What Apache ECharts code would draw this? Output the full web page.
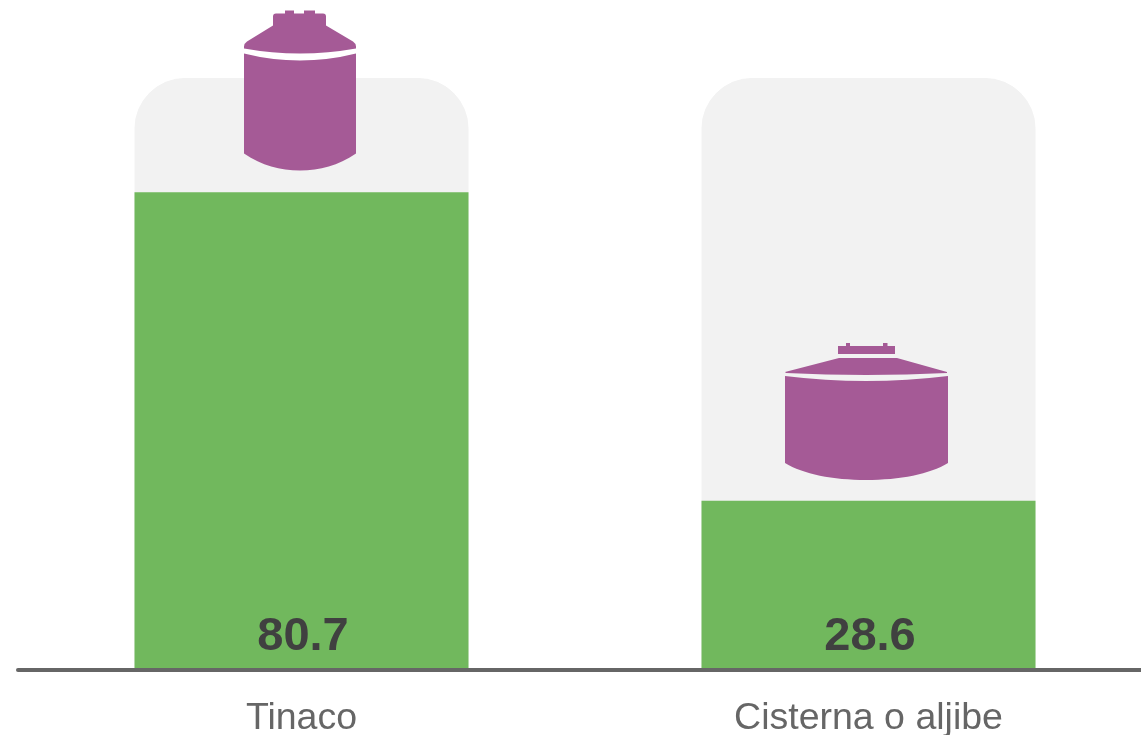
<!DOCTYPE html>
<html>
<head>
<meta charset="utf-8">
<style>html,body{margin:0;padding:0;background:#fff;overflow:hidden;width:1141px;height:735px}#c{width:1152px;height:735px}</style>
<script src="https://cdn.jsdelivr.net/npm/echarts@6/dist/echarts.min.js"></script>
</head>
<body>
<div id="c"></div>
<script>
var categories = ['Tinaco', 'Cisterna o aljibe'];
var values = [80.7, 28.6];
var fullScale = [100, 100];
var iconLevels = [97.9, 43.65];

var tallTank = 'path://M285 10H294V13H304V10H315V13H323Q326 13 326 16V25L353 41Q356 43 356 46V48Q300 58 244 48V46Q244 43 247 41L273 25V16Q273 13 276 13H285Z' +
  'M244 53Q300 67 356 53V153C338 165 320 170 300 170C280 170 262 165 244 153Z';
var wideTank = 'path://M846 343H850V346H883V343H887.500V346H895V354H838V346H846Z' +
  'M839 358H897L947 372V373Q866 377 786 373L785 372Z' +
  'M785 376Q866 386 948 376V463C930 474 900 480 866 480C833 480 803 474 785 463Z';

var chart = echarts.init(document.getElementById('c'), null, {renderer: 'canvas'});
chart.setOption({
  animation: false,
  backgroundColor: '#ffffff',
  grid: {left: 18, top: 78, right: 0, bottom: 65, containLabel: false, outerBoundsMode: 'none'},
  xAxis: {
    type: 'category',
    data: categories,
    axisTick: {show: false},
    axisLine: {show: true, lineStyle: {color: '#666666', width: 4}},
    axisLabel: {
      color: '#666666',
      fontFamily: 'Liberation Sans',
      fontSize: 37.500,
      margin: 30,
      interval: 0
    },
    z: 5
  },
  yAxis: {type: 'value', min: 0, max: 100, show: false},
  series: [
    {
      type: 'bar',
      data: fullScale,
      barWidth: 334,
      barGap: '-100%',
      silent: true,
      itemStyle: {color: '#f2f2f2', borderColor: '#f2f2f2', borderWidth: 1, borderRadius: [50, 50, 0, 0]},
      z: 1
    },
    {
      type: 'bar',
      data: values,
      barWidth: 334,
      barGap: '-100%',
      itemStyle: {color: '#71b85d'},
      label: {
        show: true,
        position: 'insideBottom',
        distance: 9,
        offset: [1.500, 0],
        color: '#404040',
        fontFamily: 'Liberation Sans',
        fontWeight: 'bold',
        fontSize: 47,
        formatter: function (p) { return p.value.toFixed(1); }
      },
      z: 2
    },
    {
      type: 'scatter',
      silent: true,
      z: 3,
      itemStyle: {color: '#a55a96', opacity: 1},
      data: [
        {value: [0, iconLevels[0]], symbol: tallTank, symbolSize: [112, 160], symbolOffset: [-1.500, 0]},
        {value: [1, iconLevels[1]], symbol: wideTank, symbolSize: [163, 137], symbolOffset: [-2, 0]}
      ]
    }
  ]
});
</script>
</body>
</html>
